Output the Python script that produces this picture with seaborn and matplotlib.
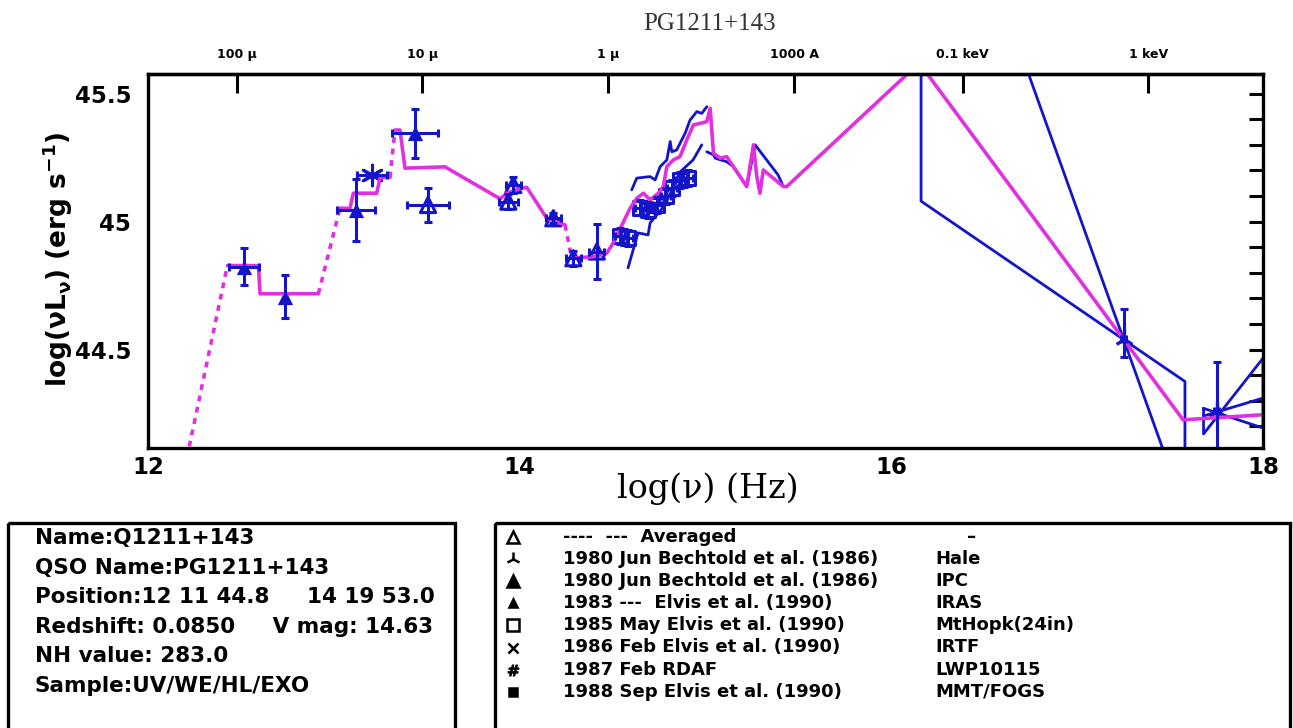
import numpy as np
import pandas as pd
import matplotlib
matplotlib.use("Agg")
import matplotlib.pyplot as plt
import seaborn as sns
from matplotlib.patches import Rectangle
from matplotlib.ticker import MultipleLocator, FixedLocator

BLUE = "#1414c8"
MAGENTA = "#e030e0"

# ---------------- data ----------------
# mean SED model: log(nu) [Hz] vs log(nu L_nu) [erg/s]
model_x = [12.222, 12.427, 12.594, 12.603, 12.917, 13.033, 13.087, 13.105, 13.231,
           13.249, 13.302, 13.329, 13.356, 13.383, 13.598, 13.895, 13.932, 13.993,
           14.038, 14.146, 14.244, 14.280, 14.397, 14.469, 14.503, 14.594, 14.630,
           14.666, 14.702, 14.747, 14.773, 14.792, 14.827, 14.863, 14.899, 14.935,
           14.971, 15.007, 15.025, 15.043, 15.079, 15.114, 15.150, 15.222, 15.258,
           15.276, 15.293, 15.311, 15.419, 15.437, 16.150, 17.570, 18.000]
model_y = [44.121, 44.828, 44.828, 44.718, 44.718, 45.052, 45.052, 45.111, 45.111,
           45.173, 45.173, 45.358, 45.358, 45.209, 45.214, 45.089, 45.111, 45.127,
           45.134, 45.013, 44.987, 44.857, 44.863, 44.877, 44.916, 45.052, 45.091,
           45.111, 45.085, 45.111, 45.137, 45.215, 45.241, 45.254, 45.319, 45.378,
           45.384, 45.391, 45.443, 45.267, 45.248, 45.254, 45.215, 45.137, 45.300,
           45.176, 45.111, 45.202, 45.137, 45.137, 45.620, 44.225, 44.245]
# model segments that are interpolations (drawn dashed), by starting point index
model_dashed = [0, 4, 10, 20]

# UV spectra (two epochs)
uv1_x = [14.603, 14.630, 14.702, 14.729, 14.756, 14.792, 14.810, 14.819, 14.845,
         14.890, 14.917, 14.953, 14.980, 15.007]
uv1_y = [45.124, 45.170, 45.176, 45.163, 45.215, 45.241, 45.313, 45.273, 45.280,
         45.345, 45.397, 45.430, 45.423, 45.449]
uv2_x = [14.583, 14.637, 14.691, 14.702, 14.783, 14.863, 14.933, 14.980]
uv2_y = [44.819, 44.956, 44.948, 44.995, 45.065, 45.194, 45.241, 45.300]
uv3_x = [15.007, 15.043, 15.052, 15.114, 15.150, 15.222, 15.267, 15.391, 15.419]
uv3_y = [45.273, 45.261, 45.248, 45.234, 45.215, 45.137, 45.300, 45.182, 45.137]

# averaged photometry (open triangles)
avg_x = [13.507, 13.939, 13.966, 14.181, 14.289, 14.415]
avg_y = [45.065, 45.078, 45.143, 45.013, 44.857, 44.883]
avg_xerr = [0.112, 0.05, 0.04, 0.04, 0.04, 0.04]
avg_yerr = [0.067, 0.03, 0.03, 0.02, 0.03, 0.107]

# IRAS photometry (filled triangles)
iras_x = [12.516, 12.737, 13.119, 13.437]
iras_y = [44.824, 44.707, 45.046, 45.345]
iras_xerr = [0.08, 0.0, 0.10, 0.125]
iras_yerr = [0.072, 0.085, 0.12, 0.096]

# ground-based IR point (asterisk)
ir_x = [13.204]
ir_y = [45.182]
ir_xerr = [0.08]

# optical photometry (open squares)
opt_x = [14.540, 14.583, 14.648, 14.691, 14.740, 14.788, 14.820, 14.863, 14.906]
opt_y = [44.944, 44.936, 45.054, 45.046, 45.065, 45.100, 45.132, 45.163, 45.171]

# X-ray points with asymmetric errors
xr_x = [17.25, 17.75]
xr_y = [44.54, 44.258]
xr_err_lo = [0.07, 0.20]
xr_err_hi = [0.12, 0.195]

# X-ray slope uncertainty bow-ties
bow1_x = [16.16, 16.16, 17.58, 17.58, 16.16]
bow1_y = [46.75, 45.08, 44.375, 43.87, 46.75]
bow2_x = [17.68, 17.68, 18.0, 18.0, 17.68]
bow2_y = [44.27, 44.17, 44.466, 44.193, 44.27]
bow2_fit_x = [17.68, 18.0]
bow2_fit_y = [44.24, 44.31]

# top axis wavelength / energy marks
top_ticks = [12.477, 13.477, 14.477, 15.477, 16.383, 17.383]
top_labels = ["100 \u03bc", "10 \u03bc", "1 \u03bc", "1000 A", "0.1 keV", "1 keV"]

info_lines = ["Name:Q1211+143", "QSO Name:PG1211+143",
              "Position:12 11 44.8     14 19 53.0",
              "Redshift: 0.0850     V mag: 14.63",
              "NH value: 283.0", "Sample:UV/WE/HL/EXO"]
leg_refs = ["----  ---  Averaged", "1980 Jun Bechtold et al. (1986)",
            "1980 Jun Bechtold et al. (1986)", "1983 ---  Elvis et al. (1990)",
            "1985 May Elvis et al. (1990)", "1986 Feb Elvis et al. (1990)",
            "1987 Feb RDAF", "1988 Sep Elvis et al. (1990)"]
leg_inst = ["\u2013", "Hale", "IPC", "IRAS", "MtHopk(24in)", "IRTF", "LWP10115", "MMT/FOGS"]
leg_markers = ["^", "2", "^", "^", "s", "x", "$\\#$", "s"]
leg_filled = [False, False, True, True, False, False, True, True]
leg_msize = [8, 10, 9, 6, 8, 7, 8, 6]

# ---------------- style ----------------
sns.set_style("white")
plt.rcParams["font.family"] = ["DejaVu Sans"]
plt.rcParams["font.weight"] = "bold"
plt.rcParams["mathtext.default"] = "regular"
for key in ("text.color", "axes.labelcolor", "xtick.color", "ytick.color"):
    plt.rcParams[key] = "black"

fig = plt.figure(figsize=(12.93, 7.28), dpi=100)
ax = fig.add_axes([148 / 1293, 1 - 448 / 728, 1115 / 1293, 374 / 728])

# model, split into solid and dashed runs
runs = []
cur_kind = None
run_id = -1
for i in range(len(model_x) - 1):
    kind = "interp" if i in model_dashed else "data"
    if kind != cur_kind:
        run_id += 1
        cur_kind = kind
        runs.append((run_id, kind, model_x[i], model_y[i]))
    runs.append((run_id, kind, model_x[i + 1], model_y[i + 1]))
model_df = pd.DataFrame(runs, columns=["run", "kind", "x", "y"])

# spectra and bow-ties
spec_df = pd.concat([
    pd.DataFrame({"x": uv1_x, "y": uv1_y, "run": "uv1"}),
    pd.DataFrame({"x": uv2_x, "y": uv2_y, "run": "uv2"}),
    pd.DataFrame({"x": uv3_x, "y": uv3_y, "run": "uv3"}),
    pd.DataFrame({"x": bow1_x, "y": bow1_y, "run": "bow1"}),
    pd.DataFrame({"x": bow2_x, "y": bow2_y, "run": "bow2"}),
    pd.DataFrame({"x": bow2_fit_x, "y": bow2_fit_y, "run": "bow2fit"}),
])
sns.lineplot(data=spec_df, x="x", y="y", units="run", estimator=None, sort=False,
             color=BLUE, lw=2.0, ax=ax, legend=False)

sns.lineplot(data=model_df, x="x", y="y", units="run", estimator=None, sort=False,
             style="kind", dashes={"data": "", "interp": (1.6, 1.6)},
             style_order=["data", "interp"], color=MAGENTA, lw=2.6, ax=ax, legend=False)

eb = dict(fmt="none", ecolor=BLUE, elinewidth=2.2, capsize=3, capthick=2.2)
ax.errorbar(iras_x, iras_y, xerr=iras_xerr, yerr=iras_yerr, **eb)
ax.errorbar(avg_x, avg_y, xerr=avg_xerr, yerr=avg_yerr, **eb)
ax.errorbar(ir_x, ir_y, xerr=ir_xerr, **eb)
ax.errorbar(opt_x, opt_y, xerr=0.025, yerr=0.03, **eb)
ax.errorbar(xr_x, xr_y, xerr=0.015, yerr=[xr_err_lo, xr_err_hi], **eb)

sns.scatterplot(x=iras_x, y=iras_y, marker="^", s=120, color=BLUE, linewidth=0, ax=ax)
sns.scatterplot(x=avg_x, y=avg_y, marker="^", s=120, color=BLUE, ax=ax)
ax.collections[-1].set_facecolor("none")
ax.collections[-1].set_edgecolor(BLUE)
ax.collections[-1].set_linewidth(2.2)
sns.scatterplot(x=opt_x, y=opt_y, marker="s", s=110, color=BLUE, ax=ax)
ax.collections[-1].set_facecolor("none")
ax.collections[-1].set_edgecolor(BLUE)
ax.collections[-1].set_linewidth(2.2)
sns.scatterplot(x=ir_x, y=ir_y, marker=(6, 2, 0), s=220, color=BLUE, linewidth=2.2, ax=ax)
sns.scatterplot(x=xr_x, y=xr_y, marker="2", s=200, color=BLUE, linewidth=2.4, ax=ax)

# axes limits, ticks and frame
ax.set_xlim(12, 18)
ax.set_ylim(44.115, 45.577)
ax.set_xlabel("")
ax.set_ylabel("")
ax.xaxis.set_major_locator(FixedLocator([12, 14, 16, 18]))
ax.xaxis.set_minor_locator(MultipleLocator(0.5))
ax.yaxis.set_major_locator(FixedLocator([44.5, 45.0, 45.5]))
ax.yaxis.set_minor_locator(MultipleLocator(0.1))
ax.set_xticklabels(["12", "14", "16", "18"])
ax.set_yticklabels(["44.5", "45", "45.5"])
ax.tick_params(which="both", direction="in", width=2.2, color="black",
               right=True, top=False, labelsize=16.5, labelcolor="black")
ax.tick_params(which="major", length=10)
ax.tick_params(which="minor", length=6)
ax.tick_params(axis="y", which="both", length=10, pad=12)
ax.tick_params(axis="x", pad=6)
for lab in ax.get_xticklabels() + ax.get_yticklabels():
    lab.set_fontweight("bold")
for sp in ax.spines.values():
    sp.set_linewidth(2.4)
    sp.set_color("black")

top = ax.secondary_xaxis("top")
top.xaxis.set_major_locator(FixedLocator(top_ticks))
top.set_xticklabels(top_labels)
top.tick_params(direction="in", length=14, width=2.2, labelsize=9, pad=9,
                color="black", labelcolor="black")
top.xaxis.set_minor_locator(FixedLocator([]))
for lab in top.get_xticklabels():
    lab.set_fontweight("bold")
top.spines["top"].set_linewidth(2.4)

fig.text(710 / 1293, 1 - 24 / 728, "PG1211+143", ha="center", va="center",
         fontsize=18, family="Liberation Serif", fontweight="normal", color="#333333")
fig.text(708 / 1293, 1 - 489 / 728, "log(\u03bd) (Hz)", ha="center", va="center",
         fontsize=24, family="DejaVu Serif", fontweight="normal")
fig.text(58 / 1293, 1 - 259 / 728, "log(\u03bdL$_\u03bd$) (erg s$^{-1}$)", ha="center",
         va="center", rotation=90, fontsize=19, fontweight="bold")

# information panels below the plot
ov = fig.add_axes([0, 0, 1, 1], facecolor="none")
ov.set_xlim(0, 1293)
ov.set_ylim(728, 0)
ov.axis("off")
ov.add_patch(Rectangle((8, 523), 447, 230, fill=False, lw=2.4, ec="black"))
ov.add_patch(Rectangle((495, 523), 795, 230, fill=False, lw=2.4, ec="black"))
for i, line in enumerate(info_lines):
    ov.text(35, 538 + 29.6 * i, line, ha="left", va="center", fontsize=15.5,
            fontweight="bold")
for i in range(len(leg_refs)):
    yy = 537 + 22.1 * i
    mk = leg_markers[i]
    ov.plot([513], [yy], marker=mk, ms=leg_msize[i], color="black",
            mfc="black" if leg_filled[i] else "none", mec="black",
            mew=0.6 if mk.startswith("$") else 1.8, ls="none")
    ov.text(563, yy, leg_refs[i], ha="left", va="center", fontsize=13, fontweight="bold")
    ov.text(935 if i else 972, yy, leg_inst[i], ha="left" if i else "center",
            va="center", fontsize=13, fontweight="bold")

fig.savefig("out.png", dpi=100, facecolor="white")
